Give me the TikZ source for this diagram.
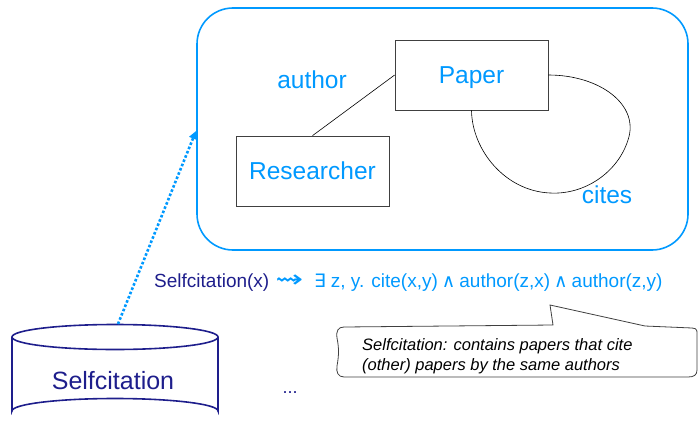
\documentclass[tikz,border=0pt]{standalone}
\usepackage{fontspec}
\setmainfont{Liberation Sans}
\newfontfamily\symfont{DejaVu Sans}
\usetikzlibrary{arrows.meta}
\definecolor{lblue}{RGB}{0,153,255}
\definecolor{navy}{RGB}{30,30,140}
\newcommand{\symb}[1]{{\symfont\fontsize{18.5}{20}\selectfont #1}}
\begin{document}
\begin{tikzpicture}[x=1pt,y=-1pt,
  entity/.style={draw=black!75,line width=0.7pt,minimum width=153pt,minimum height=70pt,inner sep=0pt,text=lblue,font=\fontsize{24.5}{28}\selectfont,text height=17.5pt,text depth=0pt},
  lbl/.style={text=lblue,inner sep=0pt,font=\fontsize{24.5}{28}\selectfont},
  conn/.style={draw=black,line width=0.6pt}]
\useasboundingbox (0,0) rectangle (700,425);
% outer schema box
\draw[lblue,line width=1.6pt,rounded corners=36pt] (197,8) rectangle (688,250);
\node[entity] (paper) at (471.5,75) {Paper};
\node[entity] (res) at (312.5,171) {Researcher};
\node[lbl] (author) at (312,80) {author};
\node[lbl] (cites) at (607,195) {cites};
\draw[conn] (paper.west) -- (res.north);
\draw[conn] (paper.east) .. controls (600,75) and (640,105) .. (628,140)
  .. controls (618,172) and (585,195) .. (550,193)
  .. controls (505,191) and (472,150) .. (paper.south);
% formula
\node[anchor=west,inner sep=0pt,text=lblue,font=\fontsize{19}{22}\selectfont] (formula) at (154,283)
  {\textcolor{navy}{Selfcitation(x)}\hspace{6pt}\scalebox{1.8}[1.3]{\symb{⇝}}\hspace{11pt}\symb{∃}\hspace{5pt}z, y. cite(x,y)\hspace{4pt}\symb{∧}\hspace{4pt}author(z,x)\hspace{4pt}\symb{∧}\hspace{4pt}author(z,y)};
% cylinder
\draw[navy,line width=1.6pt] (12,337) -- (12,411) arc[start angle=180,end angle=360,x radius=103,y radius=12.5] -- (218,337);
\draw[navy,line width=1.6pt] (115,337) ellipse[x radius=103,y radius=12.5];
\coordinate (cyltop) at (118,324);
\node[text=navy,inner sep=0pt,font=\fontsize{25}{30}\selectfont] (cyl) at (113,381) {Selfcitation};
\node[text=navy,inner sep=0pt,anchor=base,font=\fontsize{18}{22}\selectfont] (dots) at (290,393) {...};
% dotted arrow
\coordinate (arrtip) at (196,131);
\draw[lblue,line width=2.6pt,dotted,-{Triangle[length=8pt,width=8pt]}] (cyltop) -- (arrtip);
% callout
\draw[black!75,line width=0.8pt,fill=white] (344,327) -- (553,325) -- (550,305) -- (645,326) -- (692,328)
  .. controls (698,328) and (697,332) .. (697,336) -- (697,370)
  .. controls (697,375) and (694,377) .. (688,377) -- (344,377)
  .. controls (338,377) and (336,372) .. (337,366) .. controls (339,355) and (339,348) .. (337,338)
  .. controls (336,331) and (338,327) .. (344,327);
\node[anchor=west,align=left,inner sep=0pt,font=\itshape\fontsize{16.5}{20}\selectfont] (note) at (362,356)
  {Selfcitation: contains papers that cite\\(other) papers by the same authors};
\end{tikzpicture}
\end{document}
